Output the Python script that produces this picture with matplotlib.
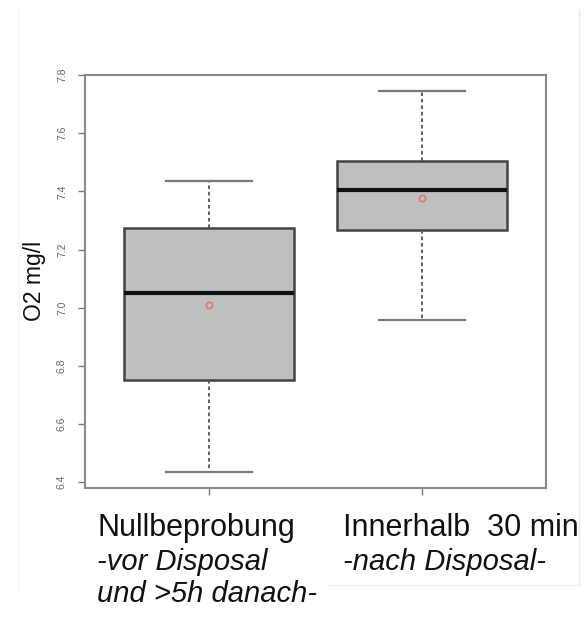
import matplotlib
matplotlib.use("Agg")
import matplotlib.pyplot as plt
from matplotlib.lines import Line2D

plt.rcParams['font.family'] = ['Liberation Sans', 'DejaVu Sans']

# Data
groups = ["Nullbeprobung", "Innerhalb  30 min"]
subtitles = [["-vor Disposal", "und >5h danach-"], ["-nach Disposal-"]]
whisker_low = [6.434, 6.957]
q1 = [6.751, 7.267]
medians = [7.05, 7.404]
q3 = [7.274, 7.504]
whisker_high = [7.435, 7.745]
means = [7.009, 7.377]
y_ticks = [6.4, 6.6, 6.8, 7.0, 7.2, 7.4, 7.6, 7.8]
y_label = "O2 mg/l"

W, H = 584, 617
fig = plt.figure(figsize=(W / 100, H / 100), dpi=100)
fig.patch.set_facecolor("white")

ax = fig.add_axes([85 / W, 1 - 488 / H, (546 - 85) / W, (488 - 75) / H])

stats = []
for i in range(len(groups)):
    stats.append(dict(whislo=whisker_low[i], q1=q1[i], med=medians[i], q3=q3[i],
                      whishi=whisker_high[i], mean=means[i], fliers=[], label=groups[i]))

ax.bxp(stats, positions=[1, 2], widths=0.8, patch_artist=True, showmeans=True,
       showfliers=False,
       boxprops=dict(facecolor="#bfbfbf", edgecolor="#444444", linewidth=1.8),
       medianprops=dict(color="#111111", linewidth=3.0),
       whiskerprops=dict(color="#555555", linewidth=1.3, linestyle=(0, (2, 1.6))),
       capprops=dict(color="#7a7a7a", linewidth=1.6),
       capwidths=0.4,
       meanprops=dict(marker="o", markersize=4.5, markerfacecolor="none",
                      markeredgecolor="#e07878", markeredgewidth=1.2))

ax.set_xlim(0.418, 2.582)
ax.set_ylim(6.38, 7.8)
ax.set_yticks(y_ticks)
ax.set_yticklabels([f"{v:.1f}" for v in y_ticks], rotation=90, va="center",
                   fontsize=7.5, color="#666666")
ax.set_xticks([1, 2])
ax.set_xticklabels(["", ""])
ax.tick_params(axis="y", length=5, width=1.0, color="#777777", pad=8)
ax.tick_params(axis="x", length=5, width=1.0, color="#777777")
for s in ax.spines.values():
    s.set_color("#8a8a8a")
    s.set_linewidth(1.5)

fig.text(35 / W, 1 - 281 / H, y_label, rotation=90, ha="center", va="center",
         fontsize=16.5, color="#111111")

# Category labels under the axis
xs = [97, 343]
for i, g in enumerate(groups):
    fig.text(xs[i] / W, 1 - 536 / H, g, ha="left", va="baseline",
             fontsize=22, color="#111111")
    for j, sub in enumerate(subtitles[i]):
        fig.text(xs[i] / W, 1 - (570 + 32 * j) / H, sub, ha="left", va="baseline",
                 fontsize=21, style="italic", color="#111111")

# faint screenshot frame lines
fig.add_artist(Line2D([19 / W, 19 / W], [1 - 10 / H, 1 - 590 / H], color="#f3f3f3", lw=1))
fig.add_artist(Line2D([579 / W, 579 / W], [1 - 10 / H, 1 - 585 / H], color="#ebebeb", lw=1))
fig.add_artist(Line2D([328 / W, 579 / W], [1 - 585 / H, 1 - 585 / H], color="#f0f0f0", lw=1))

fig.savefig("out.png", dpi=100, facecolor="white")
